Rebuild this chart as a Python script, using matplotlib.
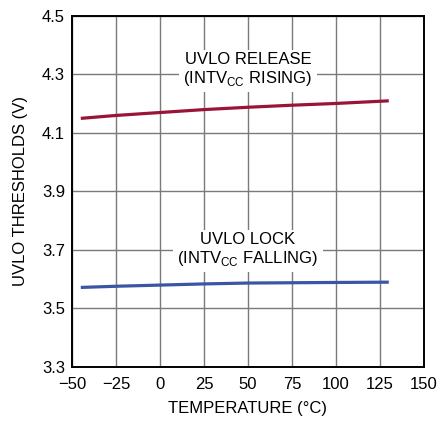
import matplotlib
matplotlib.use("Agg")
import matplotlib.pyplot as plt

plt.rcParams['font.family'] = ['Liberation Sans', 'DejaVu Sans']
plt.rcParams['mathtext.fontset'] = 'custom'
plt.rcParams['mathtext.rm'] = 'Liberation Sans'

# temperature (C)
temp = [-45, -25, 0, 25, 50, 75, 100, 130]
# UVLO thresholds (V)
release = [4.150, 4.160, 4.170, 4.180, 4.188, 4.195, 4.201, 4.210]
lock = [3.572, 3.576, 3.580, 3.584, 3.587, 3.588, 3.589, 3.590]

xticks = [-50, -25, 0, 25, 50, 75, 100, 125, 150]
yticks = [3.3, 3.5, 3.7, 3.9, 4.1, 4.3, 4.5]

fig = plt.figure(figsize=(4.4, 4.21), dpi=100)
ax = fig.add_axes([0.1636, 0.1283, 0.8, 0.8337])

ax.plot(temp, release, color='#9a1438', lw=2.3, solid_capstyle='butt', zorder=3)
ax.plot(temp, lock, color='#3a55a4', lw=2.3, solid_capstyle='butt', zorder=3)

ax.set_xlim(-50, 150)
ax.set_ylim(3.3, 4.5)
ax.set_xticks(xticks)
ax.set_xticklabels(['\u221250', '\u221225', '0', '25', '50', '75', '100', '125', '150'])
ax.set_yticks(yticks)
ax.set_yticklabels(['3.3', '3.5', '3.7', '3.9', '4.1', '4.3', '4.5'])
ax.grid(True, color='#7a7a7a', lw=1.0)
ax.set_axisbelow(True)
ax.tick_params(length=0, labelsize=12)
ax.tick_params(axis='y', pad=5)
ax.tick_params(axis='x', pad=7)
for s in ax.spines.values():
    s.set_linewidth(1.4)
    s.set_color('black')

ax.set_xlabel('TEMPERATURE (\u00b0C)', fontsize=12, labelpad=7)
ax.set_ylabel('UVLO THRESHOLDS (V)', fontsize=12, labelpad=10)

box = dict(facecolor='white', edgecolor='none', pad=3)
ax.text(50, 4.315, 'UVLO RELEASE\n(INTV$_{\\mathregular{CC}}$ RISING)', ha='center', va='center',
        fontsize=12, linespacing=1.1, bbox=box, zorder=2)
ax.text(50, 3.70, 'UVLO LOCK\n(INTV$_{\\mathregular{CC}}$ FALLING)', ha='center', va='center',
        fontsize=12, linespacing=1.1, bbox=box, zorder=2)

fig.savefig('out.png', dpi=100)
